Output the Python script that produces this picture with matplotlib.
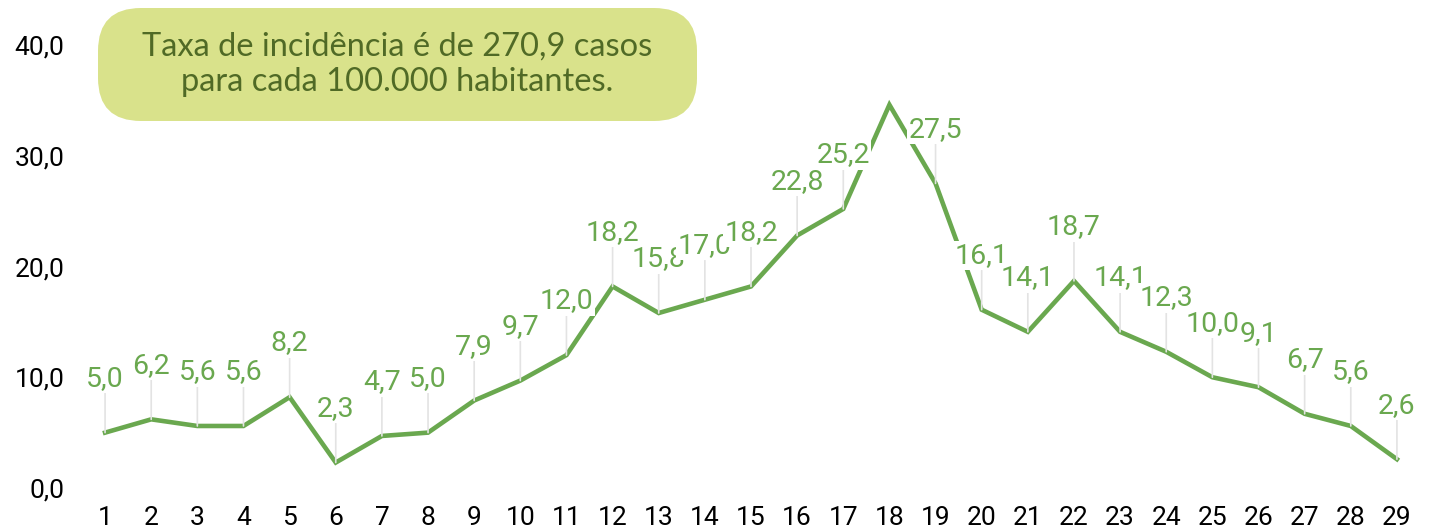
import matplotlib
matplotlib.use("Agg")
import matplotlib.pyplot as plt
from matplotlib.patches import FancyBboxPatch

days = list(range(1, 30))
values = [5.0, 6.2, 5.6, 5.6, 8.2, 2.3, 4.7, 5.0, 7.9, 9.7, 12.0, 18.2, 15.8, 17.0,
          18.2, 22.8, 25.2, 34.6, 27.5, 16.1, 14.1, 18.7, 14.1, 12.3, 10.0, 9.1,
          6.7, 5.6, 2.6]
show_label = [True] * 29
show_label[17] = False
yticks = [0, 10, 20, 30, 40]
ytick_labels = ["0,0", "10,0", "20,0", "30,0", "40,0"]
box_text = "Taxa de incidência é de 270,9 casos\npara cada 100.000 habitantes."

LINE = "#6aa84f"
LABEL = "#6aa84f"
W, H = 1432, 530

fig = plt.figure(figsize=(W / 100, H / 100), dpi=100)
L, R = 82 / W, 1420 / W
B, T = (H - 488) / H, (H - 45) / H
ax = fig.add_axes([L, B, R - L, T - B])
ax.set_xlim(0.5, 29.5)
ax.set_ylim(0, 40)

ax.plot(days, values, color=LINE, lw=3.3, solid_joinstyle="miter", zorder=3, clip_on=False)

for d, v, s in zip(days, values, show_label):
    if not s:
        continue
    ax.annotate(f"{v:.1f}".replace(".", ","), xy=(d, v), xytext=(0, 39),
                textcoords="offset points", ha="center", va="center",
                fontsize=20.5, family="Roboto", color=LABEL, zorder=4,
                bbox=dict(boxstyle="square,pad=0.05", fc="white", ec="none"),
                arrowprops=dict(arrowstyle="-", color="#e3e3e3", lw=1.2,
                                shrinkA=0, shrinkB=0),
                annotation_clip=False)

for sp in ax.spines.values():
    sp.set_visible(False)
ax.set_yticks(yticks)
ax.set_yticklabels(ytick_labels)
ax.set_xticks(days)
ax.set_xticklabels([str(d) for d in days])
ax.tick_params(axis="both", length=0, labelsize=19, labelcolor="black")
ax.tick_params(axis="y", pad=12.5)
ax.tick_params(axis="x", pad=13)
for lab in ax.get_xticklabels() + ax.get_yticklabels():
    lab.set_family("Roboto")

bx0, bx1, by0, by1 = 98, 697, 8, 121
box = FancyBboxPatch((bx0 / W, 1 - by1 / H), (bx1 - bx0) / W, (by1 - by0) / H,
                     boxstyle="round,pad=0,rounding_size=0.03",
                     transform=fig.transFigure, fc="#d9e28b", ec="none",
                     mutation_aspect=W / H, zorder=5)
fig.add_artist(box)
fig.text((bx0 + bx1) / 2 / W, 1 - (by0 + by1) / 2 / H, box_text, ha="center", va="center",
         fontsize=23.5, family="Lato", fontweight="normal", color="#506a26",
         linespacing=1.22, zorder=6)

fig.savefig("out.png", dpi=100)
